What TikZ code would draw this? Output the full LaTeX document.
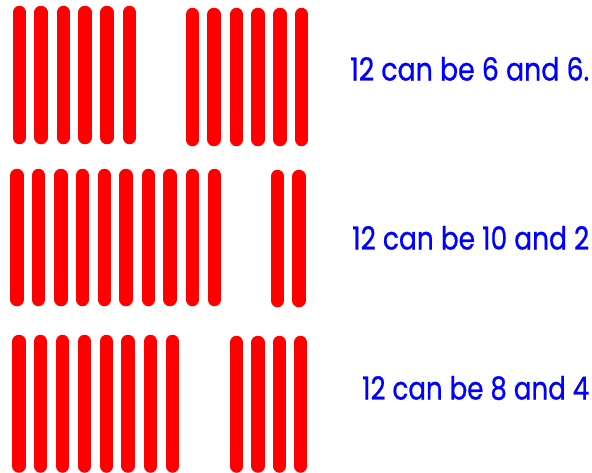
\documentclass[tikz,border=0pt]{standalone}
\usepackage{fontspec}
\newfontfamily\labelfont[FakeBold=0.8]{Poppins}
\definecolor{stickred}{RGB}{255,0,0}
\definecolor{textblue}{RGB}{0,0,255}
\begin{document}
\begin{tikzpicture}[x=1pt,y=-1pt,
  stick/.style={line width=13.5pt,line cap=round,draw=stickred},
  lbl/.style={anchor=base west,inner sep=0pt,text=textblue,font=\labelfont\fontsize{29}{30}\selectfont}]
\useasboundingbox (0,0) rectangle (592,472);
\fill[white] (0,0) rectangle (592,472);
% row 1
\foreach \x in {19.5,41,63.5,85,107,129.5} \draw[stick] (\x,12.5) -- (\x,137.5);
\foreach \x in {192.5,214,236.5,258,280,301.5} \draw[stick] (\x,14.5) -- (\x,139.5);
% row 2
\foreach \x in {17,38.5,61,82.5,104.5,126,148.5,170,192.5,214.5} \draw[stick] (\x,175.5) -- (\x,299.5);
\foreach \x in {277.5,299} \draw[stick] (\x,176.5) -- (\x,300.5);
% row 3
\foreach \x in {19,40.5,62.5,84.5,106.5,128,150.5,172.5} \draw[stick] (\x,341.5) -- (\x,466);
\foreach \x in {236.5,258,279.5,300.5} \draw[stick] (\x,342.5) -- (\x,466);
% labels
\node[lbl] (t1) at (350,80.5) {\resizebox{239pt}{23.5pt}{12 can be 6 and 6.}};
\node[lbl] (t2) at (352,249.5) {\resizebox{237pt}{23.5pt}{12 can be 10 and 2}};
\node[lbl] (t3) at (362,399.5) {\resizebox{227pt}{23.5pt}{12 can be 8 and 4}};
\end{tikzpicture}
\end{document}
